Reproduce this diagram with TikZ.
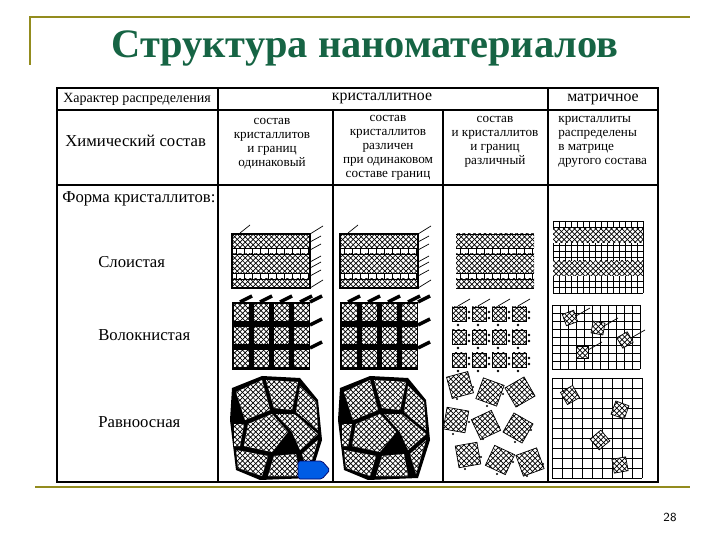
\documentclass[tikz,border=0pt]{standalone}
\usepackage{fontspec}
\setmainfont{Liberation Serif}
\usetikzlibrary{patterns}
\definecolor{ttl}{RGB}{22,100,68}
\newcommand{\mygrid}[5]{% x1,y1,x2,y2,step
  \foreach \gx in {#1,\the\numexpr#1+#5\relax,...,#3} \draw[grid] (\gx,#2) -- (\gx,#4);
  \foreach \gy in {#2,\the\numexpr#2+#5\relax,...,#4} \draw[grid] (#1,\gy) -- (#3,\gy);}
\begin{document}
\begin{tikzpicture}[x=0.02cm,y=-0.02cm,
  tl/.style={font=\fontsize{7.5}{8}\selectfont,align=center,inner sep=0},
  rl/.style={font=\fontsize{9.5}{10}\selectfont,anchor=west,inner sep=0},
  grid/.style={line width=0.4pt},
  ol/.style={draw=olive!70!yellow!80!black,line width=1.2pt}]
\useasboundingbox (0,0) rectangle (720,540);
\fill[white] (0,0) rectangle (720,540);
% decorations
\draw[ol] (30,65) -- (30,17) -- (690,17);
\draw[ol] (35,487) -- (690,487);
\node[font=\fontsize{23}{24}\selectfont\bfseries,text=ttl] (title) at (365,48) {Структура наноматериалов};
\node[font=\sffamily\fontsize{7}{8}\selectfont] (pg) at (670,517) {28};
% table
\draw[line width=1pt] (57,88) rectangle (658,482);
\draw[line width=0.6pt] (57,110) -- (658,110) (57,185) -- (658,185);
\draw[line width=0.6pt] (218,88) -- (218,482) (548,88) -- (548,482) (333,110) -- (333,482);
\draw[line width=1.2pt] (443,110) -- (443,482);
\node[tl,font=\fontsize{8}{9}\selectfont] (h1) at (137,99) {Характер распределения};
\node[tl,font=\fontsize{9}{9}\selectfont] (h2) at (382,98) {кристаллитное};
\node[tl,font=\fontsize{9}{9}\selectfont] (h3) at (603,99) {матричное};
\node[rl] (c0) at (65,141) {Химический состав};
\node[tl] (c1) at (272,144) {состав\\кристаллитов\\и границ\\одинаковый};
\node[tl] (c2) at (388,148) {состав\\кристаллитов\\различен\\при одинаковом\\составе границ};
\node[tl] (c3) at (495,142) {состав\\и кристаллитов\\и границ\\различный};
\node[tl,align=left,anchor=west] (c4) at (558,142) {кристаллиты\\распределены\\в матрице\\другого состава};
\node[rl] (f0) at (62,199) {Форма кристаллитов:};
\node[rl] (r1) at (98,262) {Слоистая};
\node[rl] (r2) at (98,335) {Волокнистая};
\node[rl] (r3) at (98,422) {Равноосная};
% layered row
\foreach \dx/\bx in {0/1,108/1,224/0}{
  \begin{scope}[xshift=\dx*0.02cm]
  \foreach \ya/\yb in {234/248,254/273,279/288}
    \fill[pattern=crosshatch,pattern color=black] (232,\ya) rectangle (310,\yb);
  \foreach \ys in {248,273}{
    \draw[grid] (232,\ys) -- (310,\ys) (232,\ys+6) -- (310,\ys+6);
    \foreach \xx in {236,244,...,308} \draw[grid] (\xx,\ys) -- (\xx,\ys+6);}
  \ifnum\bx=1
    \draw[line width=0.9pt] (232,234) rectangle (310,288);
    \draw (240,233) -- (250,225) (310,234) -- (323,226) (310,288) -- (323,280);
    \foreach \yy in {242,250,262,268,276} \draw (310,\yy) -- (321,\yy-6);
  \else
    \draw (232,234) -- (310,234) (232,288) -- (310,288);
  \fi
  \end{scope}}
% matrix layered
\mygrid{553}{221}{643}{293}{6}
\foreach \ya/\yb in {228/243,261/276}{
  \fill[white] (553,\ya) rectangle (643,\yb);
  \fill[pattern=crosshatch] (553,\ya) rectangle (643,\yb);}
% fibrous rows
\foreach \dx in {0,108}{
  \begin{scope}[xshift=\dx*0.02cm]
  \fill (232,302) rectangle (310,370);
  \foreach \i in {0,1,2,3} \foreach \j in {0,1,2}{
    \pgfmathsetmacro{\xa}{234+\i*20} \pgfmathsetmacro{\ya}{304+\j*23}
    \fill[white] (\xa,\ya) rectangle ++(15,17);
    \fill[pattern=crosshatch] (\xa,\ya) rectangle ++(15,17);}
  \foreach \i in {0,1,2,3} \draw[line width=2pt] (240+\i*20,302) -- (252+\i*20,296);
  \foreach \j in {0,1,2} \draw[line width=2pt] (310,302+\j*23) -- (322,296+\j*23);
  \end{scope}}
\foreach \i in {0,1,2,3} \foreach \j in {0,1,2}{
  \pgfmathsetmacro{\xa}{452+\i*20} \pgfmathsetmacro{\ya}{307+\j*23}
  \draw[fill=white] (\xa,\ya) rectangle ++(14,14);
  \fill[pattern=crosshatch] (\xa,\ya) rectangle ++(14,14);
  \fill (\xa+17,\ya+5) circle (1.3) (\xa+17,\ya+11) circle (1.3) (\xa+6,\ya+18) circle (1.3);}
\foreach \i in {0,1,2,3} \draw (458+\i*20,306) -- (470+\i*20,299);
\mygrid{552}{305}{640}{369}{8}
\foreach \cx/\cy/\a in {570/318/20,598/328/-10,582/352/0,625/340/30}{
  \fill[white,rotate around={\a:(\cx,\cy)}] (\cx-6,\cy-6) rectangle (\cx+6,\cy+6);
  \draw[pattern=crosshatch,rotate around={\a:(\cx,\cy)}] (\cx-6,\cy-6) rectangle (\cx+6,\cy+6);
  \draw (\cx+6,\cy-2) -- (\cx+20,\cy-10);}
% equiaxed
\foreach \dx in {0,108}{
  \begin{scope}[xshift=\dx*0.02cm]
  \fill (232,388) -- (262,376) -- (300,378) -- (318,400) -- (322,440) -- (310,478) -- (260,480) -- (236,470) -- (230,420) -- cycle;
  \foreach \pth in {
    {(236,392) -- (262,380) -- (270,410) -- (245,420) -- cycle},
    {(266,380) -- (298,382) -- (292,410) -- (274,408) -- cycle},
    {(296,412) -- (300,386) -- (316,402) -- (318,430) -- cycle},
    {(248,424) -- (272,414) -- (288,432) -- (272,452) -- (244,446) -- cycle},
    {(276,414) -- (294,414) -- (318,434) -- (300,450) -- (292,432) -- cycle},
    {(236,450) -- (268,456) -- (262,476) -- (238,468) -- cycle},
    {(274,456) -- (296,454) -- (300,476) -- (268,476) -- cycle},
    {(234,424) -- (244,424) -- (240,446) -- (234,446) -- cycle},
    {(302,454) -- (318,440) -- (308,474) -- cycle}}
    {\fill[white] \pth; \fill[pattern=crosshatch] \pth;}
  \end{scope}}
\foreach \cx/\cy/\a in {460/385/15,490/392/-20,520/392/30,456/420/-10,486/425/25,518/428/-30,468/455/10,500/460/-25,530/462/20}{
  \draw[fill=white,rotate around={\a:(\cx,\cy)}] (\cx-11,\cy-11) rectangle (\cx+11,\cy+11);
  \fill[pattern=crosshatch,rotate around={\a:(\cx,\cy)}] (\cx-11,\cy-11) rectangle (\cx+11,\cy+11);
  \fill (\cx+13,\cy+2) circle (1.2) (\cx-3,\cy+14) circle (1.2);}
\mygrid{552}{378}{642}{478}{10}
\foreach \cx/\cy/\a in {570/395/30,620/410/-20,600/440/40,620/465/10}{
  \fill[white,rotate around={\a:(\cx,\cy)}] (\cx-7,\cy-7) rectangle (\cx+7,\cy+7);
  \draw[pattern=crosshatch,rotate around={\a:(\cx,\cy)}] (\cx-7,\cy-7) rectangle (\cx+7,\cy+7);}
% blue button
\draw[fill=blue!60!cyan!90!black,draw=blue!40!black,rounded corners=1pt] (298,461) -- (322,461) -- (330,470) -- (322,479) -- (298,479) -- cycle;
\end{tikzpicture}
\end{document}
